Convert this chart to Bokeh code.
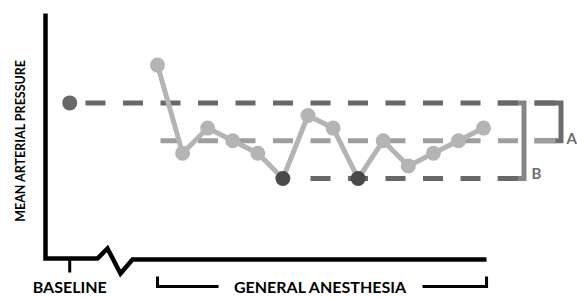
import numpy as np
from bokeh.plotting import figure
from bokeh.models import Range1d
from bokeh.core.properties import value
from bokeh.embed import file_html
from bokeh.resources import INLINE

# ---------------- data ----------------
phase_labels = ["BASELINE", "GENERAL ANESTHESIA"]
y_label = "MEAN ARTERIAL PRESSURE"
bracket_labels = ["A", "B"]
baseline_time = -2.5
baseline_map = 90
ga_time = [1, 2, 3, 4, 5, 6, 7, 8, 9, 10, 11, 12, 13, 14]
ga_map = [105, 70, 80, 75, 70, 60, 85, 80, 60, 75, 65, 70, 75, 80]
mid_map = 75
low_map = 60

# ---------------- layout helpers ----------------
W, H = 577, 298
PX_PER_T = 25.08
PX_PER_MAP = 2.52
T0_PX, MAP0_PY = 157, 178   # pixel of t=1, map=60


def X(px):
    return 1 + (px - T0_PX) / PX_PER_T


def Y(py):
    return 60 + (MAP0_PY - py) / PX_PER_MAP


def tx(t):
    return T0_PX + (t - 1) * PX_PER_T


p = figure(width=W, height=H, output_backend="svg", toolbar_location=None,
           x_range=Range1d(X(0), X(W)), y_range=Range1d(Y(H), Y(0)),
           x_axis_location=None, y_axis_location=None, min_border=0)
p.xgrid.visible = False
p.ygrid.visible = False
p.outline_line_color = None
p.background_fill_color = "white"

FONT = value("Lato")
DARK = "#686868"
MID = "#9e9e9e"
LIGHT = "#b4b4b4"
PT_DARK = "#4a4a4a"
BR_B = "#858585"
BR_A = "#6c6c6c"

# dashed reference lines (dash pattern aligned on a common grid)
period, dash = 37.5, 20
start_px = 85
LW = 5


def dashes(x_from_px, x_to_px, yv, color):
    starts = np.arange(start_px, x_to_px, period)
    starts = starts[starts >= x_from_px - 1]
    xs0 = [X(s) for s in starts]
    xs1 = [X(min(s + dash, x_to_px)) for s in starts]
    p.segment(xs0, [yv] * len(xs0), xs1, [yv] * len(xs0), line_color=color,
              line_width=LW, line_cap="butt")


# bracket B (baseline -> low)
p.line([X(497), X(523.5), X(523.5), X(497)],
       [baseline_map, baseline_map, low_map, low_map],
       line_color=BR_B, line_width=5, line_join="miter")
# bracket A (baseline -> mid)
p.line([X(534), X(560.5), X(560.5), X(534)],
       [baseline_map, baseline_map, mid_map, mid_map],
       line_color=BR_A, line_width=5, line_join="miter")

dashes(start_px, 518, baseline_map, DARK)
dashes(160, 518, mid_map, MID)
dashes(283, 518, low_map, DARK)
p.segment([X(534)], [baseline_map], [X(555)], [baseline_map], line_color=DARK, line_width=LW)
p.segment([X(534)], [mid_map], [X(555)], [mid_map], line_color=MID, line_width=LW)

p.text([X(576.5)], [Y(137)], text=[bracket_labels[0]], text_font=FONT,
       text_font_size="15px", text_font_style="bold", text_color=BR_A,
       text_align="right", text_baseline="middle")
p.text([X(536)], [Y(172)], text=[bracket_labels[1]], text_font=FONT,
       text_font_size="15px", text_font_style="bold", text_color=BR_A,
       text_align="center", text_baseline="middle")

# GA series
p.line(ga_time, ga_map, line_color=LIGHT, line_width=5)
light_t = [t for t, m in zip(ga_time, ga_map) if m != low_map]
light_m = [m for m in ga_map if m != low_map]
dark_t = [t for t, m in zip(ga_time, ga_map) if m == low_map]
dark_m = [m for m in ga_map if m == low_map]
p.scatter(light_t, light_m, size=15, fill_color=LIGHT, line_color=None)
p.scatter(dark_t, dark_m, size=15, fill_color=PT_DARK, line_color=None)
p.scatter([baseline_time], [baseline_map], size=15, fill_color=DARK, line_color=None)

# schematic axes
p.line([X(45), X(45), X(97), X(107), X(120), X(132), X(486)],
       [Y(13), Y(258), Y(258), Y(248), Y(273), Y(259), Y(259)],
       line_color="black", line_width=4.5, line_join="miter")
bx = baseline_time
p.segment([bx], [Y(258)], [bx], [Y(272)], line_color="black", line_width=3)

# GA bracket
ga_l, ga_r = tx(ga_time[0]), tx(ga_time[-1]) + 3
p.line([X(ga_l), X(ga_l), X(218)], [Y(276), Y(286), Y(286)],
       line_color="black", line_width=3, line_join="miter")
p.line([X(422), X(ga_r), X(ga_r)], [Y(286), Y(286), Y(276)],
       line_color="black", line_width=3, line_join="miter")

# labels
p.text([bx], [Y(286)], text=[phase_labels[0]], text_font=FONT,
       text_font_size="16px", text_font_style="bold", text_color="black",
       text_align="center", text_baseline="middle")
p.text([X(320)], [Y(286)], text=[phase_labels[1]], text_font=FONT,
       text_font_size="16px", text_font_style="bold", text_color="black",
       text_align="center", text_baseline="middle")
p.text([X(20)], [Y(140)], text=[y_label], text_font=FONT,
       text_font_size="12.5px", text_font_style="bold", text_color="black",
       text_align="center", text_baseline="middle", angle=np.pi / 2)

open("out.html", "w").write(file_html(p, INLINE))
